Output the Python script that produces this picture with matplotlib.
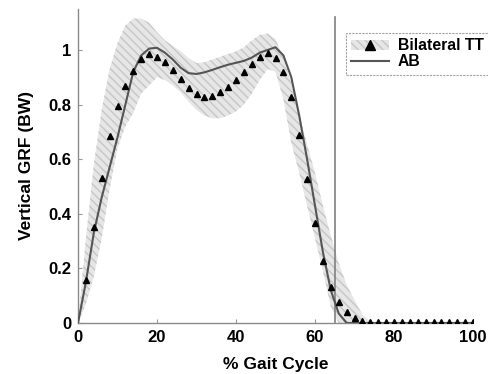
import matplotlib
matplotlib.use("Agg")
import matplotlib.pyplot as plt
import matplotlib.patches as mpatches
from matplotlib.lines import Line2D

plt.rcParams["font.family"] = ["Liberation Sans", "DejaVu Sans"]
plt.rcParams["font.weight"] = "bold"
plt.rcParams["hatch.linewidth"] = 1.0

# ─── Data ──────────────────────────────────────────────────────────────────────

gait = list(range(0, 101, 2))

tt_mean = [0.0, 0.157, 0.35, 0.53, 0.685, 0.795, 0.868, 0.923, 0.967, 0.985,
           0.975, 0.956, 0.927, 0.894, 0.861, 0.838, 0.828, 0.832, 0.847, 0.866,
           0.89, 0.92, 0.95, 0.975, 0.988, 0.97, 0.92, 0.828, 0.69, 0.527,
           0.366, 0.227, 0.132, 0.077, 0.04, 0.02, 0.008, 0.004, 0.003, 0.003,
           0.003, 0.003, 0.003, 0.003, 0.003, 0.003, 0.003, 0.003, 0.003, 0.003,
           0.003]

tt_upper = [0.0, 0.31, 0.58, 0.78, 0.93, 1.025, 1.09, 1.115, 1.115, 1.10,
            1.065, 1.035, 1.015, 0.995, 0.97, 0.952, 0.955, 0.965, 0.975, 0.985,
            0.995, 1.01, 1.035, 1.055, 1.06, 1.04, 0.97, 0.88, 0.76, 0.655,
            0.55, 0.43, 0.32, 0.22, 0.14, 0.084, 0.03, 0.005, 0.0, 0.0,
            0.0, 0.0, 0.0, 0.0, 0.0, 0.0, 0.0, 0.0, 0.0, 0.0,
            0.0]

tt_lower = [0.0, 0.07, 0.17, 0.31, 0.49, 0.64, 0.72, 0.77, 0.84, 0.87,
            0.9, 0.89, 0.87, 0.845, 0.81, 0.78, 0.76, 0.75, 0.75, 0.76,
            0.775, 0.80, 0.84, 0.89, 0.93, 0.92, 0.82, 0.66, 0.55, 0.43,
            0.31, 0.19, 0.06, 0.0, 0.0, 0.0, 0.0, 0.0, 0.0, 0.0,
            0.0, 0.0, 0.0, 0.0, 0.0, 0.0, 0.0, 0.0, 0.0, 0.0,
            0.0]

ab_mean = [0.0, 0.15, 0.33, 0.46, 0.57, 0.68, 0.80, 0.92, 0.98, 1.005,
           1.008, 0.99, 0.965, 0.935, 0.915, 0.912, 0.918, 0.927, 0.937, 0.946,
           0.953, 0.96, 0.972, 0.99, 1.0, 1.01, 0.98, 0.90, 0.76, 0.60,
           0.43, 0.26, 0.12, 0.035, 0.0, 0.0, 0.0, 0.0, 0.0, 0.0,
           0.0, 0.0, 0.0, 0.0, 0.0, 0.0, 0.0, 0.0, 0.0, 0.0,
           0.0]

toe_off = 65

x_ticks = [0, 20, 40, 60, 80, 100]
y_ticks = [0, 0.2, 0.4, 0.6, 0.8, 1.0]
y_tick_labels = ["0", "0.2", "0.4", "0.6", "0.8", "1"]

# ─── Plot ──────────────────────────────────────────────────────────────────────

fig = plt.figure(figsize=(4.88, 3.74), dpi=100)
ax = fig.add_axes([78 / 488, 1 - 323 / 374, 395 / 488, 314 / 374])

band_face = "#e6e6e6"
band_hatch = "#c6c6c6"

ax.fill_between(gait, tt_lower, tt_upper, facecolor=band_face,
                edgecolor=band_hatch, hatch="\\\\\\\\", linewidth=0, zorder=1)
ax.plot(gait, ab_mean, color="#555555", lw=1.5, zorder=3)
ax.plot(gait[1:], tt_mean[1:], linestyle="none", marker="^", ms=4.5,
        color="black", zorder=4)
ax.axvline(toe_off, ymax=0.975, color="#808080", lw=1.2, zorder=2)

ax.set_xlim(0, 100)
ax.set_ylim(0, 1.15)
ax.set_xticks(x_ticks)
ax.set_yticks(y_ticks)
ax.set_yticklabels(y_tick_labels)
ax.tick_params(direction="in", length=3, width=0.8, color="#999999",
               labelsize=12, pad=5)
for lab in ax.get_xticklabels() + ax.get_yticklabels():
    lab.set_fontweight("bold")

for side in ("top", "right"):
    ax.spines[side].set_visible(False)
for side in ("left", "bottom"):
    ax.spines[side].set_color("#8a8a8a")
    ax.spines[side].set_linestyle((0, (1.5, 1)))
    ax.spines[side].set_linewidth(1.0)

ax.set_xlabel("% Gait Cycle", fontsize=12.5, fontweight="bold", labelpad=9)
ax.set_ylabel("Vertical GRF (BW)", fontsize=12.5, fontweight="bold", labelpad=10)

# Legend (sits in the top-right corner, against the figure edge)
tt_patch = mpatches.Patch(facecolor=band_face, edgecolor=band_hatch,
                          hatch="\\\\\\\\", linewidth=0)
tt_marker = Line2D([], [], linestyle="none", marker="^", ms=7, color="black")
ab_line = Line2D([], [], color="#555555", lw=1.5)
leg = ax.legend(handles=[(tt_patch, tt_marker), ab_line],
                labels=["Bilateral TT", "AB"],
                loc="upper left", bbox_to_anchor=(346 / 488, 1 - 33 / 374),
                bbox_transform=fig.transFigure, borderaxespad=0,
                prop={"weight": "bold", "size": 11.3},
                frameon=True, fancybox=False, handlelength=2.4,
                handletextpad=0.55, borderpad=0.35, labelspacing=0.05)
frame = leg.get_frame()
frame.set_edgecolor("#8a8a8a")
frame.set_linestyle((0, (2, 1)))
frame.set_linewidth(0.8)

fig.savefig("out.png", dpi=100)
